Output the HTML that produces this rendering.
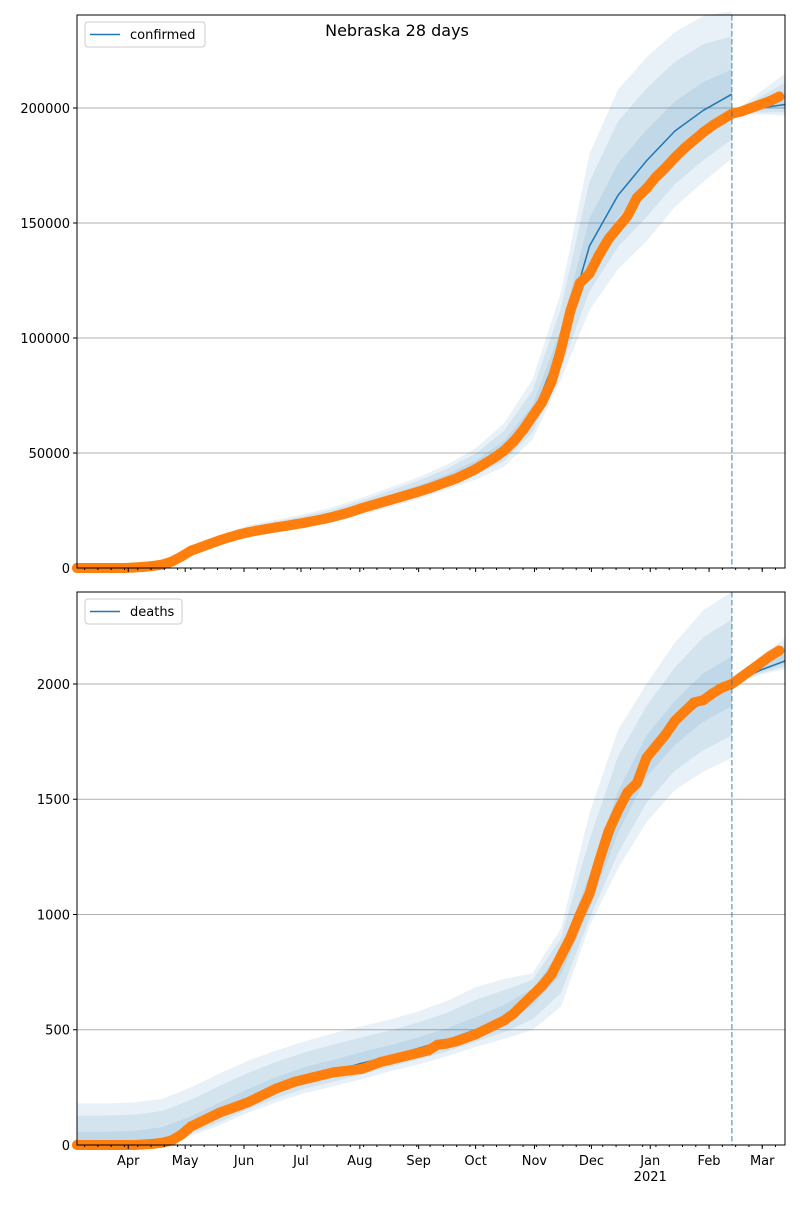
<!DOCTYPE html>
<html><head><meta charset="utf-8">
<style>
body{margin:0;background:#fff;}
svg text{font-family:"DejaVu Sans","Liberation Sans",sans-serif;font-size:13px;fill:#000;}
</style></head>
<body>
<svg id="fig" width="800" height="1200" xmlns="http://www.w3.org/2000/svg">
<rect width="800" height="1200" fill="#fff"/>
<text x="397" y="36" text-anchor="middle" style="font-size:16px">Nebraska 28 days</text>
</svg>
<script>
// ---- data (day index 0 = 2020-03-05) ----
const obsDays = [];for(let d=0;d<=370;d+=5)obsDays.push(d);
const confirmedObs = [0,0,0,0,0,0,200,500,900,1500,2800,5000,7500,9000,10500,12000,13300,14500,15500,16300,17000,17700,18300,19000,19700,20500,21300,22300,23400,24600,26000,27200,28400,29600,30800,32000,33200,34500,36000,37500,39000,41000,43000,45500,48000,51000,55000,60000,66000,72000,81000,95000,112000,124000,128000,136000,143000,148000,153000,161000,165000,170000,174000,178500,182500,186000,189500,192500,195000,197500,198500,200000,201500,203000,205000];
const deathsObs = [0,0,0,0,0,0,0,2,5,10,20,45,80,100,120,140,155,170,185,205,225,245,260,275,285,295,305,315,320,325,330,345,360,370,380,390,400,410,435,440,450,465,480,500,520,540,570,610,650,690,740,820,900,1000,1090,1230,1360,1450,1530,1570,1680,1730,1780,1840,1880,1920,1930,1960,1985,2000,2030,2060,2090,2120,2145];
const modelDays = [0,15,30,45,60,75,90,105,120,135,150,165,180,195,210,225,240,255,270,285,300,315,330,345];
const confirmedMed = [300,400,600,2000,7000,12000,16000,18500,20500,23000,26500,30500,34500,39000,44500,52000,66000,97000,140000,162000,177000,190000,199000,206000];
const confirmedHi = [600,800,1500,3500,9000,14000,18500,21000,23500,26500,30500,35000,39500,45000,52000,63000,82000,120000,180000,208000,222000,233000,240000,242000];
const confirmedLo = [0,100,200,800,5000,10000,13500,16000,18000,20000,23000,26500,30000,34000,38500,44000,56000,82000,112000,130000,142000,157000,168000,178000];
const deathsMed = [5,5,8,25,70,130,190,245,290,320,355,385,420,455,500,560,650,800,1060,1420,1680,1820,1930,2000];
const deathsHi = [180,180,185,200,250,310,365,410,450,485,515,545,580,625,685,720,745,940,1440,1800,2000,2180,2320,2400];
const deathsLo = [0,0,0,5,40,85,140,185,225,255,285,320,350,385,425,460,500,600,950,1200,1400,1540,1620,1680];
const fcDays = [345,360,373];
const confirmedFcMed = [197500,200000,201500];
const confirmedFcHi = [197500,207000,215000];
const confirmedFcLo = [197500,197200,196800];
const deathsFcMed = [2000,2060,2100];
const deathsFcHi = [2000,2120,2200];
const deathsFcLo = [2000,2040,2065];
const confTicks = [0,50000,100000,150000,200000];
const deathTicks = [0,500,1000,1500,2000];
const monthLabels = ["Apr","May","Jun","Jul","Aug","Sep","Oct","Nov","Dec","Jan","Feb","Mar"];
const monthDays = [27,57,88,118,149,180,210,241,271,302,333,361];
const forecastStartDay = 345;

const NS="http://www.w3.org/2000/svg";
const svg=document.getElementById('fig');
const X0=77,X1=785,DMAX=373;
const xs=d=>X0+(X1-X0)*d/DMAX;
function el(tag,attrs,parent){const e=document.createElementNS(NS,tag);for(const k in attrs)e.setAttribute(k,attrs[k]);(parent||svg).appendChild(e);return e;}

function panel(o){
  const g=el('g',{});
  
  
  const ys=v=>o.yb-(o.yb-o.yt)*v/o.vmax;
  o.ticks.forEach(t=>{
    const y=ys(t);
    const gl=el('line',{x1:X0,x2:X1,y1:y,y2:y,stroke:'#b0b0b0','stroke-width':1},g);
    
    
    el('line',{x1:X0-4,x2:X0,y1:y,y2:y,stroke:'#000'},g);
    const tx=el('text',{x:X0-7,y:y+5,'text-anchor':'end'},g);
    tx.textContent=t;
    
    
  });
  function band(days,med,hi,lo,f){
    const up=days.map((d,i)=>xs(d)+','+ys(med[i]+f*(hi[i]-med[i])));
    const dn=days.map((d,i)=>xs(d)+','+ys(med[i]-f*(med[i]-lo[i]))).reverse();
    const p=el('polygon',{points:up.concat(dn).join(' '),fill:'#1f77b4','fill-opacity':0.1},g);
    
    
  }
  [1,0.7,0.3].forEach(f=>{band(modelDays,o.med,o.hi,o.lo,f);band(fcDays,o.fmed,o.fhi,o.flo,f);});
  [[modelDays,o.med],[fcDays,o.fmed]].forEach(([ds,vs])=>{
    const l=el('polyline',{points:ds.map((d,i)=>xs(d)+','+ys(vs[i])).join(' '),fill:'none',stroke:'#1f77b4','stroke-width':1.5,'stroke-linejoin':'round'},g);
    
    
  });
  const trace=el('polyline',{points:obsDays.map((d,i)=>xs(d)+','+ys(o.obs[i])).join(' '),fill:'none',stroke:'#ff7f0e','stroke-width':10,'stroke-linecap':'round','stroke-linejoin':'round'},g);
  
  
  obsDays.forEach((d,i)=>{
    const c=el('circle',{cx:xs(d),cy:ys(o.obs[i]),r:5,fill:'#ff7f0e'},g);
    
    
  });
  const vl=el('line',{x1:xs(forecastStartDay),x2:xs(forecastStartDay),y1:o.yt,y2:o.yb,stroke:'#1f77b4','stroke-opacity':0.6,'stroke-width':1.5,'stroke-dasharray':'5.5,2.5'},g);
  
  
  const fr=el('rect',{x:X0,y:o.yt,width:X1-X0,height:o.yb-o.yt,fill:'none',stroke:'#000','stroke-width':1},g);
  
  
  for(let d=4;d<=DMAX;d+=7) el('line',{x1:xs(d),x2:xs(d),y1:o.yb,y2:o.yb+2,stroke:'#000'},g);
  monthDays.forEach((d,i)=>{
    el('line',{x1:xs(d),x2:xs(d),y1:o.yb,y2:o.yb+4,stroke:'#000'},g);
    if(o.labels){
      const t=el('text',{x:xs(d),y:o.yb+20,'text-anchor':'middle'},g);
      t.textContent=monthLabels[i];
      
      
      if(monthLabels[i]==='Jan'){
        const t2=el('text',{x:xs(d),y:o.yb+36,'text-anchor':'middle'},g);
        t2.textContent='2021';
        
        
      }
    }
  });
  const lg=el('g',{},g);
  
  
  el('rect',{x:85,y:o.yt+7,width:o.lw,height:25,rx:3,fill:'#fff','fill-opacity':0.8,stroke:'#ccc'},lg);
  el('line',{x1:90,x2:120,y1:o.yt+19.5,y2:o.yt+19.5,stroke:'#1f77b4','stroke-width':1.5},lg);
  const lt=el('text',{x:130,y:o.yt+24},lg);
  lt.textContent=o.name;
  
  
}
panel({name:'confirmed',yt:15,yb:568,vmax:240434.8,ticks:confTicks,obs:confirmedObs,med:confirmedMed,hi:confirmedHi,lo:confirmedLo,fmed:confirmedFcMed,fhi:confirmedFcHi,flo:confirmedFcLo,labels:false,lw:120});
panel({name:'deaths',yt:592,yb:1145,vmax:2399.1,ticks:deathTicks,obs:deathsObs,med:deathsMed,hi:deathsHi,lo:deathsLo,fmed:deathsFcMed,fhi:deathsFcHi,flo:deathsFcLo,labels:true,lw:97});
</script>
</body></html>
